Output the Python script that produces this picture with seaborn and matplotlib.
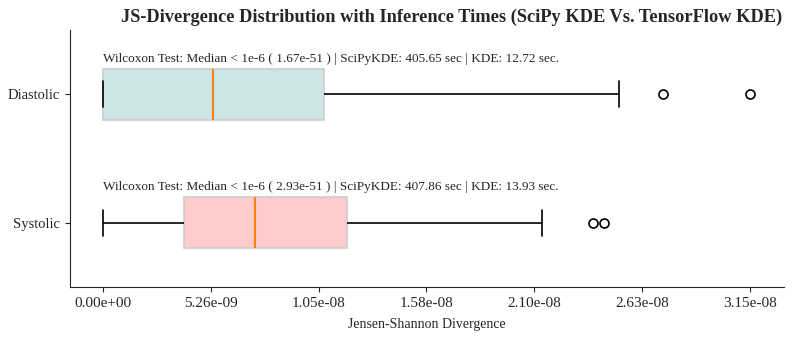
import pandas as pd
import matplotlib
matplotlib.use("Agg")
import matplotlib.pyplot as plt
import seaborn as sns

# values (JS divergence per group)
groups = ["Diastolic", "Systolic"]
diastolic_js = [0, 0, 0, 0, 2.1e-9, 3.9e-9, 5.36e-9, 7.0e-9, 9.0e-9,
                1.077e-8, 2.515e-8, 2.73e-8, 3.154e-8]
systolic_js = [0, 1.5e-9, 2.8e-9, 3.96e-9, 5.2e-9, 6.4e-9, 7.41e-9, 8.6e-9,
               1.02e-8, 1.188e-8, 2.14e-8, 2.39e-8, 2.442e-8]
box_colors = ["#cce5e5", "#ffcccc"]

notes = [
    "Wilcoxon Test: Median < 1e-6 ( 1.67e-51 ) | SciPyKDE: 405.65 sec | KDE: 12.72 sec.",
    "Wilcoxon Test: Median < 1e-6 ( 2.93e-51 ) | SciPyKDE: 407.86 sec | KDE: 13.93 sec.",
]

tick_values = [0, 5.257e-9, 1.0513e-8, 1.577e-8, 2.1027e-8, 2.6283e-8, 3.154e-8]
tick_labels = ["0.00e+00", "5.26e-09", "1.05e-08", "1.58e-08",
               "2.10e-08", "2.63e-08", "3.15e-08"]

df = pd.DataFrame({
    "group": ["Diastolic"] * len(diastolic_js) + ["Systolic"] * len(systolic_js),
    "js": diastolic_js + systolic_js,
})

sns.set_style("ticks")
plt.rcParams["font.family"] = ["Liberation Serif", "DejaVu Serif"]

fig = plt.figure(figsize=(7.92, 3.38), dpi=100)
ax = fig.add_axes([70 / 792, 51 / 338, 714 / 792, 257 / 338])

sns.boxplot(data=df, x="js", y="group", hue="group", order=groups,
            palette=box_colors, width=0.4, saturation=1, legend=False,
            boxprops=dict(edgecolor="#cccccc", linewidth=1.2),
            medianprops=dict(color="#ff7f0e", linewidth=1.5),
            whiskerprops=dict(color="black", linewidth=1.2),
            capprops=dict(color="black", linewidth=1.2),
            flierprops=dict(marker="o", markerfacecolor="none",
                            markeredgecolor="black", markersize=6.5,
                            markeredgewidth=1.2),
            ax=ax)

for i, txt in enumerate(notes):
    ax.text(0, i - 0.23, txt, ha="left", va="bottom", fontsize=9.5)

ax.set_xlim(-1.61e-9, 3.32e-8)
ax.set_ylim(1.5, -0.5)
ax.set_xticks(tick_values)
ax.set_xticklabels(tick_labels)
ax.tick_params(axis="x", labelsize=11)
ax.tick_params(axis="y", labelsize=10.5)
ax.set_xlabel("Jensen-Shannon Divergence", fontsize=10, labelpad=6)
ax.set_ylabel("")
fig.text(452 / 792, 1 - 17 / 338,
         "JS-Divergence Distribution with Inference Times (SciPy KDE Vs. TensorFlow KDE)",
         ha="center", va="center", fontsize=13.2, fontweight="bold")
sns.despine(ax=ax)

fig.savefig("out.png", dpi=100)
